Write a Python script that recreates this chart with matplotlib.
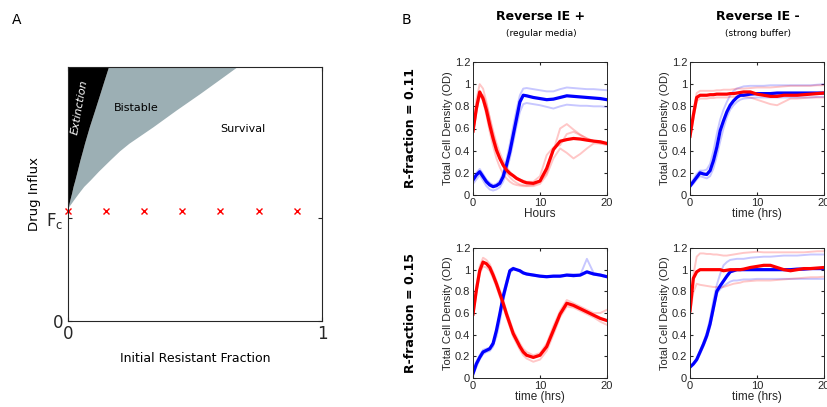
import numpy as np
import matplotlib
matplotlib.use('Agg')
import matplotlib.pyplot as plt

# ---- panel A: phase diagram ----
y_bd = [0.445, 0.455, 0.463, 0.48, 0.503, 0.53, 0.555, 0.59, 0.634, 0.67, 0.7, 0.765, 0.83, 0.896, 0.95, 1.0]
x_extinct = [0, 0.002, 0.004, 0.008, 0.014, 0.02, 0.027, 0.036, 0.047, 0.057, 0.065, 0.084, 0.105, 0.126, 0.143, 0.159]
x_bistable = [0, 0.006, 0.012, 0.024, 0.041, 0.062, 0.087, 0.12, 0.165, 0.203, 0.24, 0.335, 0.425, 0.52, 0.595, 0.664]
fc = 0.405
cross_x = [0, 0.15, 0.3, 0.45, 0.6, 0.75, 0.9]
cross_y = 0.434

# ---- panel B: time courses (hours) ----
t = [0, 0.5, 1, 1.5, 2, 2.5, 3, 3.5, 4, 4.5, 5, 5.5, 6, 6.5, 7, 7.5, 8,
     9, 10, 11, 12, 13, 14, 15, 16, 17, 18, 19, 20]

# R-fraction 0.11, IE +
tl_blue = [0.135, 0.18, 0.21, 0.165, 0.12, 0.09, 0.075, 0.084, 0.105, 0.165, 0.27, 0.39, 0.54, 0.69, 0.84, 0.9, 0.895,
           0.88, 0.87, 0.86, 0.865, 0.88, 0.895, 0.89, 0.885, 0.88, 0.875, 0.87, 0.86]
tl_blue_rep = [
    [0.15, 0.2, 0.235, 0.19, 0.14, 0.11, 0.09, 0.1, 0.13, 0.2, 0.32, 0.46, 0.62, 0.77, 0.9, 0.96, 0.965,
     0.955, 0.945, 0.935, 0.935, 0.955, 0.97, 0.965, 0.96, 0.955, 0.955, 0.95, 0.945],
    [0.1, 0.14, 0.18, 0.13, 0.08, 0.05, 0.04, 0.05, 0.07, 0.12, 0.22, 0.33, 0.47, 0.62, 0.75, 0.82, 0.83,
     0.82, 0.81, 0.795, 0.78, 0.8, 0.815, 0.81, 0.805, 0.805, 0.8, 0.8, 0.795],
]
tl_red = [0.576, 0.78, 0.93, 0.87, 0.765, 0.63, 0.51, 0.405, 0.33, 0.27, 0.225, 0.195, 0.174, 0.15, 0.135, 0.12, 0.11,
          0.105, 0.126, 0.24, 0.41, 0.485, 0.5, 0.51, 0.505, 0.495, 0.486, 0.48, 0.465]
tl_red_rep = [
    [0.6, 0.86, 1.0, 0.96, 0.84, 0.69, 0.55, 0.43, 0.33, 0.26, 0.2, 0.16, 0.13, 0.11, 0.095, 0.09, 0.085,
     0.09, 0.12, 0.2, 0.4, 0.6, 0.64, 0.59, 0.545, 0.51, 0.485, 0.465, 0.45],
    [0.56, 0.74, 0.9, 0.9, 0.82, 0.7, 0.58, 0.47, 0.38, 0.31, 0.25, 0.21, 0.18, 0.16, 0.14, 0.13, 0.12,
     0.12, 0.17, 0.36, 0.43, 0.45, 0.55, 0.57, 0.54, 0.51, 0.49, 0.475, 0.465],
    [0.55, 0.76, 0.9, 0.85, 0.72, 0.57, 0.44, 0.33, 0.25, 0.19, 0.15, 0.12, 0.1, 0.09, 0.085, 0.08, 0.08,
     0.08, 0.1, 0.18, 0.33, 0.42, 0.38, 0.33, 0.37, 0.42, 0.465, 0.465, 0.465],
]

# R-fraction 0.11, IE -
tr_blue = [0.08, 0.12, 0.16, 0.2, 0.19, 0.185, 0.22, 0.31, 0.43, 0.58, 0.67, 0.75, 0.81, 0.85, 0.88, 0.9, 0.9,
           0.91, 0.915, 0.915, 0.915, 0.92, 0.92, 0.92, 0.92, 0.92, 0.92, 0.92, 0.92]
tr_blue_rep = [
    [0.1, 0.14, 0.19, 0.22, 0.22, 0.23, 0.28, 0.4, 0.55, 0.68, 0.77, 0.84, 0.9, 0.94, 0.96, 0.97, 0.98,
     0.985, 0.985, 0.985, 0.99, 0.99, 0.99, 0.99, 0.99, 0.99, 0.99, 0.995, 1.0],
    [0.07, 0.1, 0.14, 0.17, 0.16, 0.15, 0.17, 0.24, 0.35, 0.48, 0.6, 0.7, 0.77, 0.81, 0.84, 0.86, 0.87,
     0.875, 0.88, 0.88, 0.88, 0.88, 0.88, 0.88, 0.88, 0.88, 0.88, 0.885, 0.885],
]
tr_red = [0.53, 0.72, 0.88, 0.9, 0.9, 0.9, 0.905, 0.905, 0.91, 0.91, 0.91, 0.91, 0.915, 0.915, 0.92, 0.925, 0.93,
          0.93, 0.91, 0.9, 0.89, 0.89, 0.9, 0.9, 0.9, 0.905, 0.91, 0.915, 0.92]
tr_red_rep = [
    [0.55, 0.75, 0.92, 0.94, 0.94, 0.94, 0.94, 0.94, 0.945, 0.945, 0.95, 0.95, 0.95, 0.955, 0.96, 0.96, 0.96,
     0.965, 0.97, 0.97, 0.97, 0.975, 0.98, 0.985, 0.985, 0.985, 0.985, 0.99, 0.99],
    [0.5, 0.68, 0.85, 0.87, 0.87, 0.87, 0.875, 0.875, 0.88, 0.88, 0.88, 0.88, 0.885, 0.885, 0.89, 0.89, 0.89,
     0.88, 0.86, 0.84, 0.82, 0.81, 0.84, 0.87, 0.87, 0.875, 0.88, 0.88, 0.88],
]

# R-fraction 0.15, IE +
bl_blue = [0.04, 0.13, 0.19, 0.24, 0.255, 0.27, 0.32, 0.44, 0.59, 0.75, 0.87, 0.99, 1.01, 1.0, 0.99, 0.97, 0.96,
           0.95, 0.94, 0.935, 0.94, 0.94, 0.95, 0.945, 0.95, 0.98, 0.96, 0.95, 0.935]
bl_blue_rep = [
    [0.06, 0.15, 0.21, 0.26, 0.27, 0.28, 0.3, 0.38, 0.52, 0.7, 0.85, 0.97, 1.0, 1.0, 0.99, 0.975, 0.965,
     0.955, 0.945, 0.94, 0.945, 0.945, 0.955, 0.96, 0.95, 1.1, 0.97, 0.955, 0.94],
    [0.03, 0.1, 0.17, 0.22, 0.24, 0.25, 0.29, 0.42, 0.6, 0.78, 0.9, 1.0, 1.02, 1.0, 0.98, 0.965, 0.955,
     0.945, 0.935, 0.93, 0.935, 0.935, 0.945, 0.94, 0.945, 0.97, 0.955, 0.945, 0.93],
]
bl_red = [0.59, 0.81, 0.99, 1.07, 1.055, 1.02, 0.95, 0.87, 0.78, 0.69, 0.59, 0.5, 0.41, 0.35, 0.29, 0.24, 0.21,
          0.19, 0.21, 0.29, 0.44, 0.59, 0.69, 0.67, 0.64, 0.61, 0.58, 0.55, 0.53]
bl_red_rep = [
    [0.62, 0.85, 1.03, 1.11, 1.09, 1.05, 0.98, 0.9, 0.81, 0.72, 0.62, 0.53, 0.44, 0.38, 0.32, 0.27, 0.24,
     0.21, 0.23, 0.32, 0.48, 0.62, 0.72, 0.69, 0.66, 0.63, 0.6, 0.6, 0.63],
    [0.56, 0.78, 0.96, 1.03, 1.02, 0.99, 0.92, 0.84, 0.75, 0.66, 0.56, 0.47, 0.38, 0.32, 0.26, 0.21, 0.18,
     0.15, 0.17, 0.25, 0.4, 0.56, 0.66, 0.65, 0.62, 0.59, 0.56, 0.52, 0.49],
]

# R-fraction 0.15, IE -
br_blue = [0.1, 0.13, 0.17, 0.24, 0.31, 0.39, 0.5, 0.65, 0.8, 0.85, 0.895, 0.94, 0.98, 0.99, 1.0, 1.0, 1.0,
           1.0, 1.0, 1.0, 1.0, 1.0, 1.0, 1.0, 1.005, 1.005, 1.01, 1.01, 1.01]
br_blue_rep = [
    [0.1, 0.13, 0.18, 0.25, 0.33, 0.42, 0.55, 0.72, 0.86, 0.96, 1.04, 1.07, 1.09, 1.095, 1.1, 1.1, 1.1,
     1.11, 1.115, 1.12, 1.12, 1.125, 1.13, 1.13, 1.13, 1.135, 1.14, 1.14, 1.14],
    [0.1, 0.12, 0.16, 0.22, 0.29, 0.37, 0.47, 0.62, 0.78, 0.82, 0.85, 0.87, 0.89, 0.9, 0.9, 0.905, 0.91,
     0.91, 0.915, 0.915, 0.915, 0.915, 0.915, 0.915, 0.915, 0.915, 0.915, 0.915, 0.915],
]
br_red = [0.62, 0.92, 0.98, 1.0, 1.0, 1.0, 1.0, 1.0, 1.0, 1.0, 0.99, 0.995, 1.0, 1.0, 1.0, 1.0, 1.005,
          1.02, 1.03, 1.04, 1.04, 1.02, 1.0, 0.99, 1.0, 1.01, 1.01, 1.015, 1.02]
br_red_rep = [
    [0.64, 0.95, 1.12, 1.15, 1.15, 1.145, 1.145, 1.14, 1.14, 1.135, 1.13, 1.13, 1.135, 1.14, 1.145, 1.15, 1.155,
     1.16, 1.165, 1.16, 1.16, 1.16, 1.16, 1.16, 1.16, 1.16, 1.165, 1.17, 1.17],
    [0.6, 0.79, 0.87, 0.86, 0.855, 0.85, 0.845, 0.84, 0.84, 0.835, 0.84, 0.85, 0.86, 0.87, 0.875, 0.88, 0.89,
     0.895, 0.9, 0.9, 0.9, 0.905, 0.91, 0.915, 0.92, 0.925, 0.93, 0.93, 0.935],
]

W, H = 827, 407
fig = plt.figure(figsize=(W / 100, H / 100), dpi=100)
edge = '#262626'


def box(px_left, px_top, px_w, px_h):
    return [px_left / W, 1 - (px_top + px_h) / H, px_w / W, px_h / H]


# ---------- panel A ----------
axA = fig.add_axes(box(68, 67, 254, 254))
axA.fill_betweenx(y_bd, x_extinct, x_bistable, color='#9cafb4', lw=0)
axA.fill_betweenx(y_bd, 0, x_extinct, color='black', lw=0)
axA.plot(cross_x, [cross_y] * len(cross_x), 'x', color='red', ms=4.5, mew=1.0, clip_on=False)
axA.set_xlim(0, 1)
axA.set_ylim(0, 1)
axA.set_xticks([0, 1])
axA.set_xticklabels(['0', '1'], fontsize=12)
axA.set_yticks([0, fc])
axA.set_yticklabels(['0', r'F$_\mathregular{c}$'], fontsize=12)
axA.tick_params(direction='in', top=True, right=True, length=3, pad=3, colors='#262626')
for s in axA.spines.values():
    s.set_color(edge)
axA.set_xlabel('Initial Resistant Fraction', fontsize=9, labelpad=6)
axA.set_ylabel('Drug Influx', fontsize=9.5, labelpad=4)
axA.text(0.045, 0.84, 'Extinction', color='white', style='italic', fontsize=8,
         rotation=80, ha='center', va='center', transform=axA.transAxes)
axA.text(0.27, 0.84, 'Bistable', fontsize=8, ha='center', va='center', transform=axA.transAxes)
axA.text(0.69, 0.755, 'Survival', fontsize=8, ha='center', va='center', transform=axA.transAxes)

fig.text(12 / W, 1 - 20 / H, 'A', fontsize=10, va='center', ha='left')
fig.text(402 / W, 1 - 20 / H, 'B', fontsize=10, va='center', ha='left')

# ---------- panel B ----------
panels = [
    (box(473, 62, 134, 133), tl_blue, tl_blue_rep, tl_red, tl_red_rep, 'Hours'),
    (box(690, 62, 134, 133), tr_blue, tr_blue_rep, tr_red, tr_red_rep, 'time (hrs)'),
    (box(473, 248, 134, 130), bl_blue, bl_blue_rep, bl_red, bl_red_rep, 'time (hrs)'),
    (box(690, 248, 134, 130), br_blue, br_blue_rep, br_red, br_red_rep, 'time (hrs)'),
]
bfont = 'Liberation Sans'
for rect, blue, blue_rep, red, red_rep, xl in panels:
    ax = fig.add_axes(rect)
    for r in blue_rep:
        ax.plot(t, r, color='blue', lw=1.4, alpha=0.22)
    for r in red_rep:
        ax.plot(t, r, color='red', lw=1.4, alpha=0.22)
    ax.plot(t, blue, color='blue', lw=2.3)
    ax.plot(t, red, color='red', lw=2.3)
    ax.set_xlim(0, 20)
    ax.set_ylim(0, 1.2)
    ax.set_xticks([0, 10, 20])
    ax.set_yticks([0, 0.2, 0.4, 0.6, 0.8, 1.0, 1.2])
    ax.set_yticklabels(['0', '0.2', '0.4', '0.6', '0.8', '1', '1.2'])
    ax.tick_params(direction='in', top=True, right=True, length=2.5, pad=2,
                   labelsize=8, colors='#262626')
    for lab in ax.get_xticklabels() + ax.get_yticklabels():
        lab.set_family(bfont)
    for s in ax.spines.values():
        s.set_color(edge)
        s.set_linewidth(0.7)
    ax.set_ylabel('Total Cell Density (OD)', fontsize=8, family=bfont, labelpad=1, color='#262626')
    ax.set_xlabel(xl, fontsize=8.5, family=bfont, labelpad=0, color='#262626')

fig.text(541 / W, 1 - 16 / H, 'Reverse IE +', fontsize=9, weight='bold', ha='center', va='center')
fig.text(541 / W, 1 - 34 / H, '(regular media)', fontsize=6.5, ha='center', va='center')
fig.text(758 / W, 1 - 16 / H, 'Reverse IE -', fontsize=9, weight='bold', ha='center', va='center')
fig.text(758 / W, 1 - 34 / H, '(strong buffer)', fontsize=6.5, ha='center', va='center')
fig.text(410 / W, 1 - 128 / H, 'R-fraction = 0.11', fontsize=9, weight='bold',
         rotation=90, ha='center', va='center')
fig.text(410 / W, 1 - 313 / H, 'R-fraction = 0.15', fontsize=9, weight='bold',
         rotation=90, ha='center', va='center')

fig.savefig('out.png', dpi=100)
